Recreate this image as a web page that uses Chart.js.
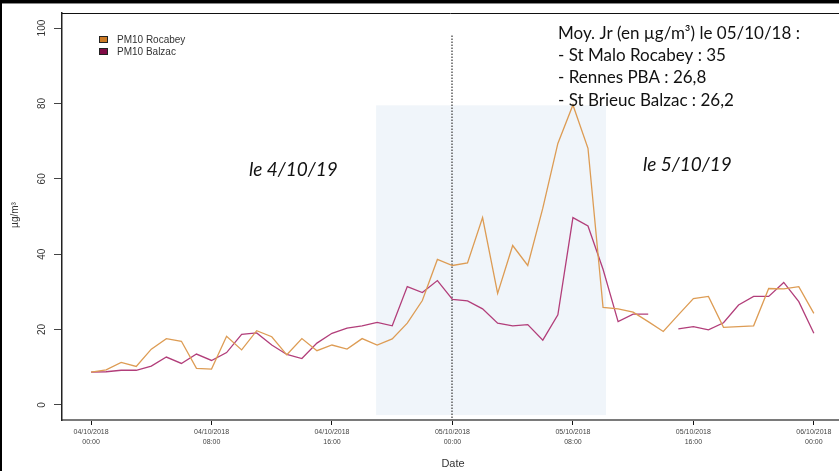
<!DOCTYPE html>
<html>
<head>
<meta charset="utf-8">
<script src="https://cdn.jsdelivr.net/npm/chart.js@4/dist/chart.umd.min.js"></script>
<style>
  html, body { margin: 0; padding: 0; background: #fff; overflow: hidden; }
  #wrap { position: relative; width: 839px; height: 471px; }
</style>
</head>
<body>
<div id="wrap"><canvas id="c" width="839" height="471"></canvas></div>
<script>
// Hourly PM10 concentrations (µg/m³), 04/10/2018 00:00 -> 06/10/2018 00:00
const hours = Array.from({ length: 49 }, (_, i) => i);

const rocabey = [
  8.7, 9.3, 11.3, 10.2, 14.8, 17.6, 16.9, 9.7, 9.5, 18.2,
  14.6, 19.7, 18.1, 13.3, 17.6, 14.4, 15.9, 14.8, 17.6, 15.9,
  17.5, 21.7, 27.7, 38.6, 37.0, 37.7, 49.7, 29.6, 42.3, 37.0,
  52.2, 69.4, 79.6, 68.1, 25.9, 25.5, 24.6, 22.1, 19.5, 23.9,
  28.2, 28.8, 20.6, 20.8, 21.0, 30.9, 30.8, 31.4, 24.3
];

const balzac = [
  8.7, 8.8, 9.2, 9.2, 10.3, 12.7, 11.0, 13.5, 11.8, 13.9,
  18.7, 19.1, 15.9, 13.4, 12.3, 16.4, 19.0, 20.4, 21.0, 21.9,
  21.0, 31.4, 29.8, 33.0, 28.0, 27.6, 25.5, 21.7, 21.0, 21.3,
  17.2, 23.9, 49.7, 47.5, 36.0, 22.1, 24.1, 24.1, null, 20.2,
  20.8, 19.9, 21.8, 26.5, 28.8, 28.8, 32.5, 27.4, 19.0
];

const seriesNames = ['PM10 Rocabey', 'PM10 Balzac'];
const xTickHours = [0, 8, 16, 24, 32, 40, 48];
const xTickLabels = [
  ['04/10/2018', '00:00'], ['04/10/2018', '08:00'], ['04/10/2018', '16:00'],
  ['05/10/2018', '00:00'], ['05/10/2018', '08:00'], ['05/10/2018', '16:00'],
  ['06/10/2018', '00:00']
];
const yTicks = [0, 20, 40, 60, 80, 100];

const infoLines = [
  'Moy. Jr (en µg/m³) le 05/10/18 :',
  '- St Malo Rocabey : 35',
  '- Rennes PBA : 26,8',
  '- St Brieuc Balzac : 26,2'
];
const dayLabels = ['le 4/10/19', 'le 5/10/19'];

// highlighted period (hours) and marker at midnight
const bandHours = [18.93, 34.2];
const bandValues = [-2.7, 79.5];
const midnightHour = 24;

const lineColors = ['rgb(221,156,84)', 'rgb(178,62,122)'];
const keyColors = ['rgb(204,122,38)', 'rgb(128,12,70)'];

const decor = {
  id: 'decor',
  beforeDatasetsDraw(chart) {
    const { ctx, chartArea: a, scales: { x, y } } = chart;
    ctx.save();
    // shaded period
    const bx0 = x.getPixelForValue(bandHours[0]);
    const bx1 = x.getPixelForValue(bandHours[1]);
    const by0 = y.getPixelForValue(bandValues[1]);
    const by1 = y.getPixelForValue(bandValues[0]);
    ctx.fillStyle = 'rgb(240,245,250)';
    ctx.fillRect(bx0, by0, bx1 - bx0, by1 - by0);
    // midnight marker
    const mx = Math.round(x.getPixelForValue(midnightHour));
    ctx.strokeStyle = '#666';
    ctx.lineWidth = 1.6;
    ctx.setLineDash([1.5, 1.5]);
    ctx.beginPath();
    ctx.moveTo(mx, y.getPixelForValue(98));
    ctx.lineTo(mx, a.bottom);
    ctx.stroke();
    ctx.restore();
  },
  afterDraw(chart) {
    const { ctx, chartArea: a, scales: { y } } = chart;
    ctx.save();
    // page frame
    ctx.fillStyle = '#000';
    ctx.fillRect(0, 0, 839, 3);
    ctx.fillStyle = '#888';
    ctx.fillRect(0, 3, 839, 1);
    ctx.fillStyle = '#000';
    ctx.fillRect(0, 0, 2, 471);
    // top edge of plot box
    ctx.strokeStyle = '#111';
    ctx.lineWidth = 1;
    ctx.beginPath();
    ctx.moveTo(a.left, a.top + 0.5);
    ctx.lineTo(a.right, a.top + 0.5);
    ctx.stroke();

    // rotated y tick labels
    ctx.fillStyle = '#333';
    ctx.font = '10px "Liberation Sans", Arial, sans-serif';
    ctx.textAlign = 'center';
    ctx.textBaseline = 'middle';
    yTicks.forEach(v => {
      const py = y.getPixelForValue(v);
      ctx.save();
      ctx.translate(42, py);
      ctx.rotate(-Math.PI / 2);
      ctx.fillText(String(v), 0, 0);
      ctx.restore();
    });
    // y axis title
    ctx.save();
    ctx.translate(15, 215);
    ctx.rotate(-Math.PI / 2);
    ctx.fillText('µg/m³', 0, 0);
    ctx.restore();
    // x axis title
    ctx.font = '11px "Liberation Sans", Arial, sans-serif';
    ctx.fillText('Date', 453, 464);

    // legend
    ctx.font = '10px "Liberation Sans", Arial, sans-serif';
    ctx.textAlign = 'left';
    seriesNames.forEach((name, i) => {
      const ly = 40 + i * 12;
      ctx.fillStyle = keyColors[i];
      ctx.fillRect(99.5, ly - 3.5, 8, 6);
      ctx.strokeStyle = '#222';
      ctx.lineWidth = 1;
      ctx.strokeRect(99.5, ly - 3.5, 8, 6);
      ctx.fillStyle = '#333';
      ctx.fillText(name, 117, ly);
    });

    // daily means note
    ctx.fillStyle = '#111';
    ctx.font = '17px Lato, "Open Sans", sans-serif';
    ctx.textBaseline = 'alphabetic';
    const baselines = [39, 61, 83, 106];
    infoLines.forEach((t, i) => ctx.fillText(t, 558, baselines[i]));

    // day captions
    ctx.font = 'italic 19px Lato, "Open Sans", sans-serif';
    ctx.fillText(dayLabels[0], 249, 176);
    ctx.fillText(dayLabels[1], 643, 171);
    ctx.restore();
  }
};

new Chart(document.getElementById('c'), {
  type: 'line',
  data: {
    labels: hours,
    datasets: [rocabey, balzac].map((vals, i) => ({
      label: seriesNames[i],
      data: vals.map((v, h) => ({ x: hours[h], y: v })),
      borderColor: lineColors[i],
      borderWidth: 1.3,
      pointRadius: 0,
      tension: 0,
      spanGaps: false,
      fill: false
    }))
  },
  options: {
    responsive: false,
    animation: false,
    events: [],
    layout: { padding: { top: 13, left: 0, right: 0, bottom: 0 } },
    plugins: { legend: { display: false }, tooltip: { enabled: false } },
    scales: {
      x: {
        type: 'linear',
        min: -1.93,
        max: 49.67,
        afterBuildTicks: s => { s.ticks = xTickHours.map(v => ({ value: v })); },
        afterFit: s => { s.height = 51; },
        grid: { drawOnChartArea: false, drawTicks: true, tickLength: 5, color: '#111', tickWidth: 1 },
        border: { display: true, color: '#7a7a7a', width: 2 },
        ticks: {
          autoSkip: false,
          maxRotation: 0,
          minRotation: 0,
          padding: 2,
          color: '#444',
          font: { family: '"Liberation Sans", Arial, sans-serif', size: 7, lineHeight: 1.45 },
          callback: v => {
            const k = xTickHours.indexOf(v);
            return k >= 0 ? xTickLabels[k] : '';
          }
        }
      },
      y: {
        type: 'linear',
        min: -4,
        max: 104,
        afterBuildTicks: s => { s.ticks = yTicks.map(v => ({ value: v })); },
        afterFit: s => { s.width = 62; },
        grid: { drawOnChartArea: false, drawTicks: true, tickLength: 8, color: '#444', tickWidth: 1 },
        border: { display: true, color: '#222', width: 1.5 },
        ticks: { display: false }
      }
    }
  },
  plugins: [decor]
});
</script>
</body>
</html>
